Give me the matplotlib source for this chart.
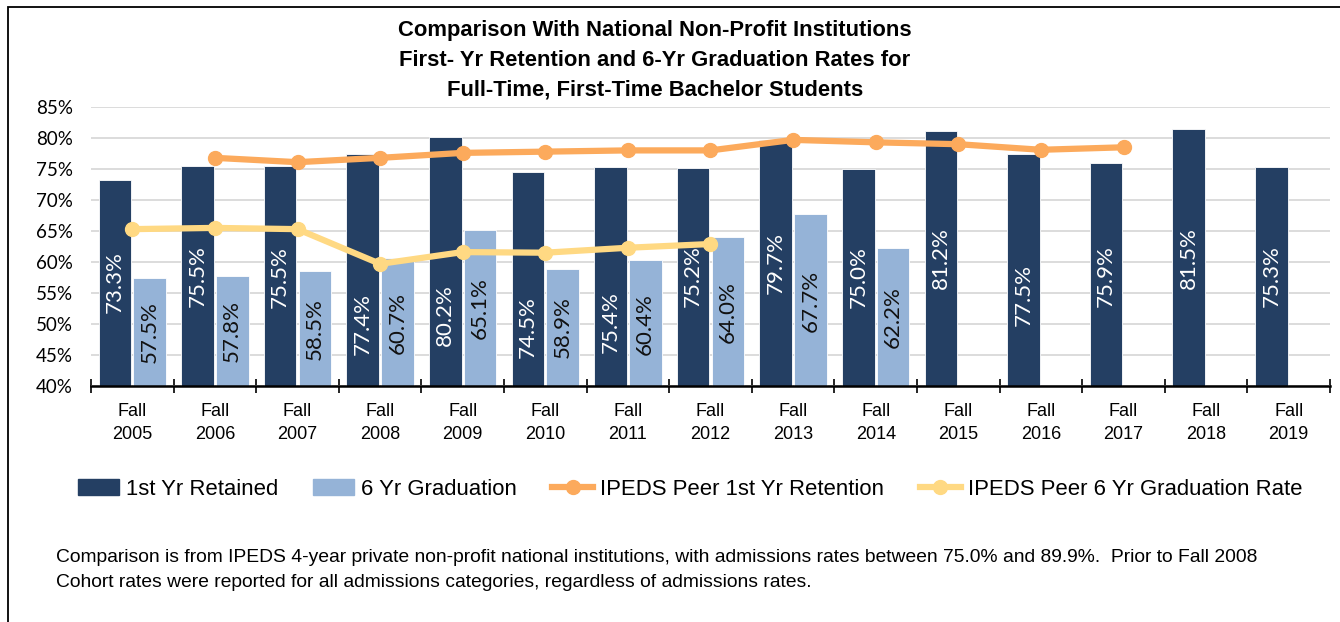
import numpy as np
import matplotlib
matplotlib.use("Agg")
from matplotlib import pyplot as plt
from matplotlib.patches import Rectangle
from matplotlib.lines import Line2D

# --- data ---
years = ["Fall\n2005", "Fall\n2006", "Fall\n2007", "Fall\n2008", "Fall\n2009",
         "Fall\n2010", "Fall\n2011", "Fall\n2012", "Fall\n2013", "Fall\n2014",
         "Fall\n2015", "Fall\n2016", "Fall\n2017", "Fall\n2018", "Fall\n2019"]
retained = [73.3, 75.5, 75.5, 77.4, 80.2, 74.5, 75.4, 75.2, 79.7, 75.0,
            81.2, 77.5, 75.9, 81.5, 75.3]
graduation = [57.5, 57.8, 58.5, 60.7, 65.1, 58.9, 60.4, 64.0, 67.7, 62.2]
peer_retention = [None, 76.8, 76.1, 76.8, 77.6, 77.8, 78.0, 78.0, 79.7, 79.3,
                  79.0, 78.1, 78.5]
peer_graduation = [65.3, 65.5, 65.3, 59.7, 61.6, 61.5, 62.3, 62.9]

title = ("Comparison With National Non-Profit Institutions\n"
         "First- Yr Retention and 6-Yr Graduation Rates for\n"
         "Full-Time, First-Time Bachelor Students")
note = ("Comparison is from IPEDS 4-year private non-profit national institutions, "
        "with admissions rates between 75.0% and 89.9%.  Prior to Fall 2008\n"
        "Cohort rates were reported for all admissions categories, regardless of admissions rates.")

# --- layout: where the data labels sit (in axis % units), placed by hand in the original ---
ret_label_y = [56.8, 57.7, 57.6, 50.0, 51.4, 49.5, 50.3, 57.8, 59.8, 57.6,
               60.6, 54.7, 57.8, 60.7, 57.7]
grad_label_y = [48.7, 48.8, 49.2, 50.2, 52.5, 49.5, 50.0, 52.0, 53.8, 51.1]

DARK = "#243F63"
LIGHT = "#95B3D7"
ORANGE = "#FCAA5C"
YELLOW = "#FFD983"
NARROW = ["Liberation Sans", "DejaVu Sans"]
LABELFONT = ["Lato", "DejaVu Sans"]


def draw_bars(ax):
    x = np.arange(len(years))
    off = 0.21
    w = 0.395
    ax.bar(x - off, retained, w, color=DARK, edgecolor="white",
           linewidth=0.6, zorder=2)
    xg = np.arange(len(graduation))
    ax.bar(xg + off, graduation, w, color=LIGHT, edgecolor="white",
           linewidth=0.6, zorder=2)

    for i, v in enumerate(retained):
        ax.text(i - off, ret_label_y[i], "%.1f%%" % v, rotation=90, color="white",
                ha="center", va="center", fontsize=16, family=LABELFONT, zorder=5)
    for i, v in enumerate(graduation):
        ax.text(i + off, grad_label_y[i], "%.1f%%" % v, rotation=90, color="#111111",
                ha="center", va="center", fontsize=16, family=LABELFONT, zorder=5)


def draw_lines(ax):
    xr = [i for i, v in enumerate(peer_retention) if v is not None]
    yr = [v for v in peer_retention if v is not None]
    ax.plot(xr, yr, color=ORANGE, lw=4.5, marker="o", ms=10, zorder=4,
            solid_capstyle="round")
    ax.plot(range(len(peer_graduation)), peer_graduation, color=YELLOW, lw=4.5,
            marker="o", ms=10, zorder=4, solid_capstyle="round")


def main():
    fig = plt.figure(figsize=(13.4, 6.22), dpi=100)
    fig.patch.set_facecolor("white")

    # outer frame (only left/top edges visible in the original crop)
    fig.add_artist(Rectangle((8 / 1340, -0.1), 1.2, (622 - 7) / 622 + 0.1,
                             transform=fig.transFigure, fill=False,
                             edgecolor="black", lw=1.3))

    ax = fig.add_axes([91 / 1340, 1 - 386 / 622, (1330 - 91) / 1340, (386 - 107) / 622])
    draw_bars(ax)
    draw_lines(ax)

    ax.set_xlim(-0.5, len(years) - 0.5)
    ax.set_ylim(40, 85)
    ax.set_yticks(np.arange(40, 86, 5))
    ax.set_yticklabels(["%d%%" % t for t in range(40, 86, 5)], family=LABELFONT,
                       fontsize=13.5)
    ax.yaxis.grid(True, color="#D9D9D9", lw=1.3, zorder=0)
    ax.set_axisbelow(True)
    ax.tick_params(axis="y", length=0, pad=13)

    ax.set_xticks(np.arange(-0.5, len(years), 1.0))
    ax.set_xticklabels([])
    ax.set_xticks(np.arange(len(years)), minor=True)
    ax.set_xticklabels(years, minor=True, family=NARROW, fontsize=13,
                       linespacing=1.5)
    ax.tick_params(axis="x", which="major", direction="inout", length=10,
                   width=1.2, color="black")
    ax.tick_params(axis="x", which="minor", length=0, pad=12)

    for s in ["left", "right", "top"]:
        ax.spines[s].set_visible(False)
    ax.spines["bottom"].set_linewidth(1.8)

    fig.text(655 / 1340, 1 - 60 / 622, title, ha="center", va="center",
             fontsize=15.8, fontweight="bold", family=NARROW, linespacing=1.55)

    handles = [
        Rectangle((0, 0), 1, 1, color=DARK),
        Rectangle((0, 0), 1, 1, color=LIGHT),
        Line2D([], [], color=ORANGE, lw=4.5, marker="o", ms=10),
        Line2D([], [], color=YELLOW, lw=4.5, marker="o", ms=10),
    ]
    names = ["1st Yr Retained", "6 Yr Graduation", "IPEDS Peer 1st Yr Retention",
             "IPEDS Peer 6 Yr Graduation Rate"]
    fig.legend(handles, names, loc="center", bbox_to_anchor=(690 / 1340, 1 - 489 / 622),
               ncol=4, frameon=False, prop={"family": NARROW, "size": 15.9},
               handlelength=1.85, handletextpad=0.32, columnspacing=1.6)

    fig.text(56 / 1340, 1 - 570 / 622, note, ha="left", va="center", fontsize=13.9,
             family=NARROW, linespacing=1.55)

    fig.savefig("out.png", dpi=100, facecolor="white")


if __name__ == '__main__':
    main()
